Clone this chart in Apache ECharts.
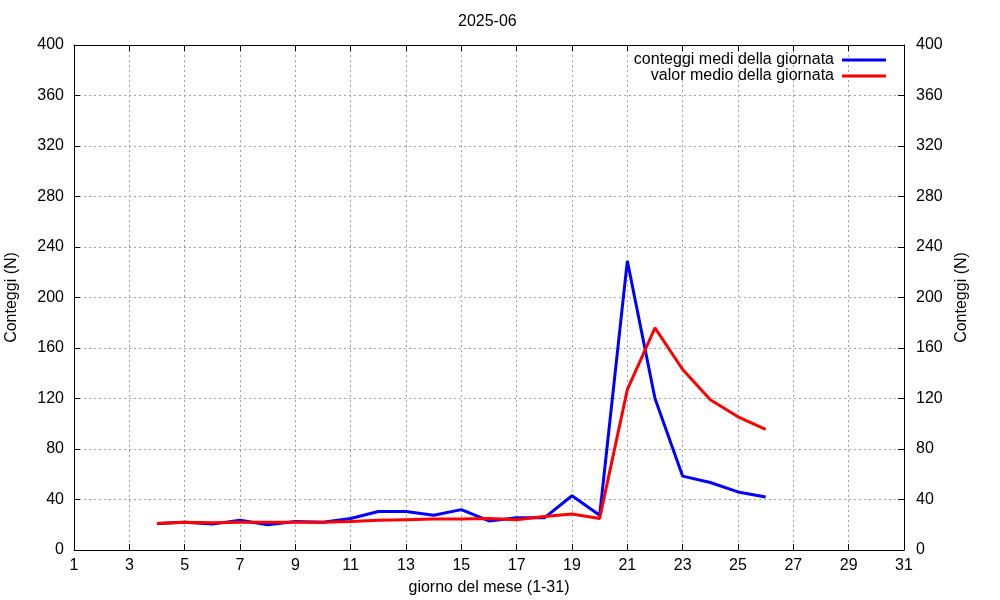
<!DOCTYPE html>
<html><head><meta charset="utf-8">
<script src="https://cdn.jsdelivr.net/npm/echarts@6/dist/echarts.min.js"></script>
<style>html,body{margin:0;padding:0;background:#fff}#c{width:1000px;height:600px}</style>
</head><body><div id="c"></div>
<script>
const days = [4,5,6,7,8,9,10,11,12,13,14,15,16,17,18,19,20,21,22,23,24,25,26];
const conteggiMedi = [21,22,20.5,23.5,20,22.5,22,25,30.5,30.5,27.5,32,23,25.5,25.5,43,27.5,229,120,58.5,53.5,46,42];
const valorMedio = [21,22,21.5,22,22,22,22,22.5,23.5,24,24.5,24.5,25,24,26.5,28.5,25,127,176,143,119,105.5,95.5];
const seriesNames = ['conteggi medi della giornata','valor medio della giornata'];
const title = '2025-06';

const font = 'Liberation Sans, Arial, sans-serif';
const fs = 16;
const chart = echarts.init(document.getElementById('c'));
const gridLine = {show:true, lineStyle:{color:'#a0a0a0', type:[2,3], width:1}};
const axisLine = {show:true, onZero:false, lineStyle:{color:'#000', width:1}};
const tick = {show:true, inside:true, length:6, lineStyle:{color:'#000'}};
chart.setOption({
  animation:false,
  backgroundColor:'#fff',
  title:{text:title, left:453, top:9, textStyle:{fontFamily:font, fontSize:fs, fontWeight:'normal', color:'#000'}},
  legend:{
    right:109, top:47, orient:'vertical', align:'right', itemGap:0,
    itemWidth:44, itemHeight:3,
    textStyle:{fontFamily:font, fontSize:fs, color:'#000', lineHeight:15, padding:[0,3,0,0]},
    data:seriesNames.map(n=>({name:n, icon:'rect'}))
  },
  grid:{left:74, right:96, top:45, bottom:50, containLabel:false, outerBoundsMode:'none'},
  xAxis:[
    {type:'value', min:1, max:31, interval:2, position:'bottom',
     name:'giorno del mese (1-31)', nameLocation:'middle', nameGap:30,
     nameTextStyle:{fontFamily:font, fontSize:fs, color:'#000'},
     axisLine:axisLine, axisTick:tick, splitLine:gridLine,
     axisLabel:{fontFamily:font, fontSize:fs, color:'#000', margin:8}},
    {type:'value', min:1, max:31, interval:2, position:'top',
     axisLine:axisLine, axisTick:tick, splitLine:{show:false}, axisLabel:{show:false}}
  ],
  yAxis:[
    {type:'value', min:0, max:400, interval:40, position:'left',
     name:'Conteggi (N)', nameLocation:'middle', nameGap:54, nameRotate:90,
     nameTextStyle:{fontFamily:font, fontSize:fs, color:'#000'},
     axisLine:axisLine, axisTick:tick, splitLine:gridLine,
     axisLabel:{fontFamily:font, fontSize:fs, color:'#000', margin:10}},
    {type:'value', min:0, max:400, interval:40, position:'right',
     name:'Conteggi (N)', nameLocation:'middle', nameGap:50, nameRotate:90,
     nameTextStyle:{fontFamily:font, fontSize:fs, color:'#000'},
     axisLine:axisLine, axisTick:tick, splitLine:{show:false},
     axisLabel:{fontFamily:font, fontSize:fs, color:'#000', margin:12}}
  ],
  series:[
    {name:seriesNames[0], type:'line', xAxisIndex:0, yAxisIndex:0, symbol:'none',
     itemStyle:{color:'#0000ff'}, lineStyle:{color:'#0000ff', width:3},
     data:days.map((d,i)=>[d, conteggiMedi[i]])},
    {name:seriesNames[1], type:'line', xAxisIndex:0, yAxisIndex:0, symbol:'none',
     itemStyle:{color:'#ff0000'}, lineStyle:{color:'#ff0000', width:3},
     data:days.map((d,i)=>[d, valorMedio[i]])}
  ]
});
</script></body></html>
